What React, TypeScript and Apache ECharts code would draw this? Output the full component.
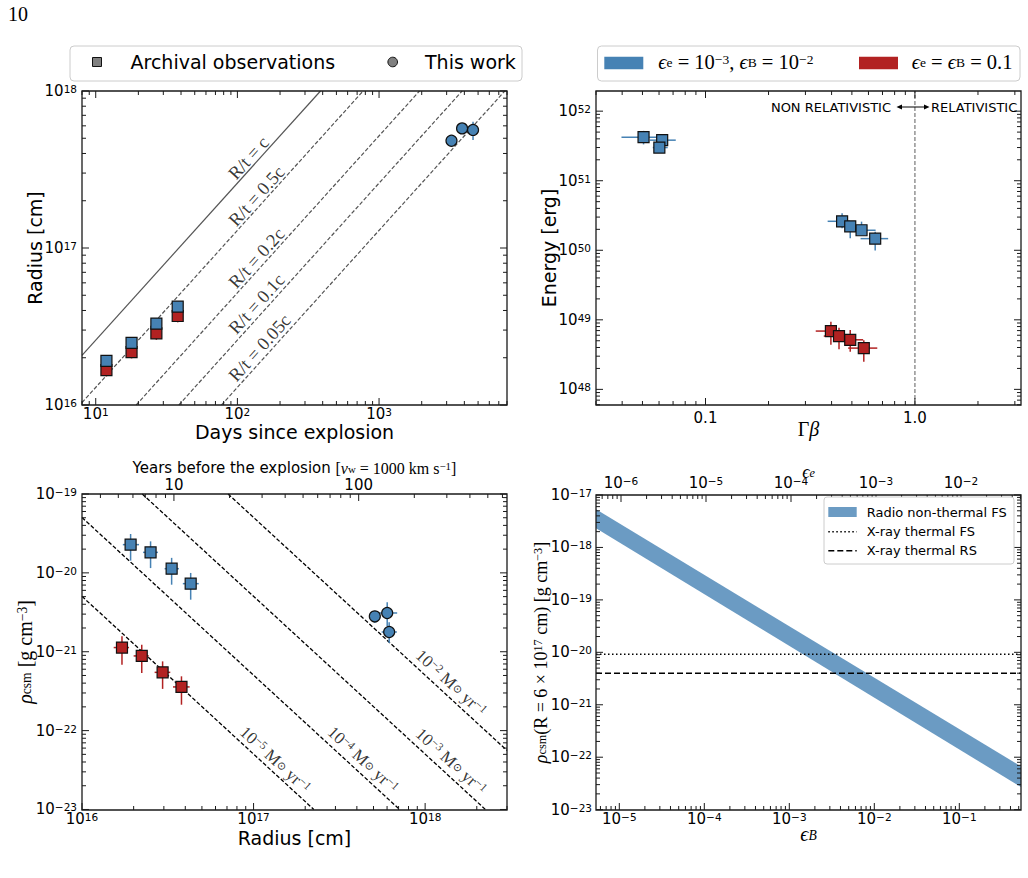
import React, { useEffect, useRef } from 'react';
import * as echarts from 'echarts';

const SANS = "'DejaVu Sans', sans-serif";
const SERIF = "'Liberation Serif', 'DejaVu Serif', serif";
const BLUE = '#4682b4';
const RED = '#b22222';
const BAND = '#6b9bc3';
const FRAME = '#1a1a1a';
const MINUS = '\u2212';

// ---------- Panel A: radius vs days since explosion
const archivalDays = [11.9, 17.9, 26.8, 37.9];
const radiusBlue = [1.91e16, 2.49e16, 3.3e16, 4.23e16];
const radiusBlueLo = [1.8e16, 2.36e16, 3.13e16, 4.02e16];
const radiusBlueHi = [2.02e16, 2.62e16, 3.47e16, 4.44e16];
const radiusRed = [1.67e16, 2.17e16, 2.86e16, 3.69e16];
const radiusRedLo = [1.52e16, 1.98e16, 2.6e16, 3.36e16];
const radiusRedHi = [1.82e16, 2.36e16, 3.12e16, 4.02e16];
const newDays = [3245, 3855, 4606];
const newDaysLo = [3200, 3800, 4560];
const newDaysHi = [3290, 3910, 4650];
const radiusNew = [4.82e17, 5.78e17, 5.65e17];
const radiusNewLo = [4.72e17, 5.5e17, 4.87e17];
const radiusNewHi = [4.93e17, 6.05e17, 6.37e17];
const speedLabels = ['R/t = c', 'R/t = 0.5c', 'R/t = 0.2c', 'R/t = 0.1c', 'R/t = 0.05c'];
const speedLineStart = [[8, 2.07e16], [8, 1.036e16], [19.3, 1e16], [38.6, 1e16], [77.2, 1e16]];
const speedLineEnd = [[386, 1e18], [772, 1e18], [1930, 1e18], [3860, 1e18], [7720, 1e18]];
const speedLabelPos = [[120, 3.74e17], [136.7, 2.14e17], [136.7, 8.63e16], [136.7, 4.4e16], [143.6, 2.31e16]];

// ---------- Panel B: energy vs Gamma*beta
const gbBlue = [0.0506, 0.0621, 0.0602, 0.449, 0.491, 0.556, 0.646];
const gbBlueLo = [0.0397, 0.0542, 0.056, 0.383, 0.43, 0.526, 0.55];
const gbBlueHi = [0.0594, 0.0721, 0.066, 0.489, 0.517, 0.649, 0.745];
const energyBlue = [4.23e51, 3.83e51, 3.0e51, 2.61e50, 2.21e50, 1.94e50, 1.47e50];
const energyBlueLo = [3.33e51, 3.4e51, 2.7e51, 2.07e50, 1.49e50, 1.66e50, 9.9e49];
const energyBlueHi = [5.21e51, 4.3e51, 3.3e51, 3.41e50, 2.58e50, 2.58e50, 1.85e50];
const gbRed = [0.397, 0.434, 0.491, 0.57];
const gbRedLo = [0.336, 0.367, 0.472, 0.48];
const gbRedHi = [0.463, 0.489, 0.566, 0.661];
const energyRed = [6.89e48, 5.84e48, 5.16e48, 3.92e48];
const energyRedLo = [4.37e48, 3.76e48, 3.47e48, 2.49e48];
const energyRedHi = [9.36e48, 7.67e48, 7.11e48, 5.1e48];
const relativisticBoundary = 1.0;

// ---------- Panel C: density vs radius
const radiusCBlue = [1.92e16, 2.51e16, 3.33e16, 4.3e16];
const radiusCBlueLo = [1.73e16, 2.27e16, 3.03e16, 3.87e16];
const radiusCBlueHi = [2.15e16, 2.77e16, 3.67e16, 4.79e16];
const rhoBlue = [2.28e-20, 1.82e-20, 1.13e-20, 7.3e-21];
const rhoBlueLo = [1.43e-20, 1.15e-20, 7.08e-21, 4.57e-21];
const rhoBlueHi = [3.11e-20, 2.51e-20, 1.55e-20, 9.98e-21];
const radiusCRed = [1.71e16, 2.23e16, 2.95e16, 3.8e16];
const radiusCRedLo = [1.53e16, 2.0e16, 2.65e16, 3.39e16];
const radiusCRedHi = [1.88e16, 2.45e16, 3.27e16, 4.24e16];
const rhoRed = [1.13e-21, 8.85e-22, 5.48e-22, 3.58e-22];
const rhoRedLo = [6.86e-22, 5.38e-22, 3.38e-22, 2.13e-22];
const rhoRedHi = [1.57e-21, 1.23e-21, 7.55e-22, 4.88e-22];
const radiusCNew = [5.09e17, 6.01e17, 6.17e17];
const radiusCNewLo = [4.74e17, 5.3e17, 5.58e17];
const radiusCNewHi = [5.47e17, 6.87e17, 6.84e17];
const rhoNew = [2.81e-21, 3.1e-21, 1.78e-21];
const rhoNewLo = [2.32e-21, 2.1e-21, 1.29e-21];
const rhoNewHi = [3.25e-21, 4.23e-21, 2.36e-21];
const massLossLabels = ['-5', '-4', '-3', '-2'];
const massLossStart = [[1e16, 5.04e-21], [1e16, 5.04e-20], [2.245e16, 1e-19], [7.1e16, 1e-19]];
const massLossEnd = [[2.245e17, 1e-23], [7.1e17, 1e-23], [2.245e18, 1e-23], [3e18, 5.6e-23]];
const massLossLabelPos = [[1.337e17, 4.28e-23], [4.34e17, 4.28e-23], [1.416e18, 4.08e-23], [1.416e18, 4.03e-22]];

// ---------- Panel D: density vs epsilon_B
const epsBEdges = [5.32e-6, 0.532];
const bandUpper = [5.34e-18, 6.68e-23];
const bandLower = [2.32e-18, 2.7e-23];
const xrayFS = 9.2e-21;
const xrayRS = 4.0e-21;

// ---------- axis ranges
const rangeA = { x: [8, 8000], y: [1e16, 1e18] };
const rangeB = { x: [0.03, 3.21], y: [5.96e47, 1.95e52] };
const rangeC = { x: [1e16, 3e18], y: [0.985e-23, 1e-19], top: [3.18, 635] };
const rangeD = { x: [5.32e-6, 0.532], y: [0.985e-23, 1e-17], top: [5.08e-7, 0.0508] };

const isPow10 = (v: number) => {
  if (!(v > 0)) return false;
  const e = Math.log10(v);
  return Math.abs(e - Math.round(e)) < 1e-6;
};
const powFmt = (v: number) => {
  if (!isPow10(v)) return '';
  const r = Math.round(Math.log10(v));
  return `{b|10}{s|${r < 0 ? MINUS + -r : r}}`;
};
const supRich = {
  b: { fontSize: 15, lineHeight: 15, padding: [4, 0, 0, 0], verticalAlign: 'bottom', fontFamily: SANS, color: '#000' },
  s: { fontSize: 10.5, lineHeight: 11, verticalAlign: 'top', fontFamily: SANS, color: '#000' },
};
const mathRich = (size: number, pad = 4) => ({
  m: { fontSize: size, lineHeight: size, padding: [pad, 0, pad, 0], fontFamily: SERIF, color: '#000' },
  i: { fontSize: size, lineHeight: size, padding: [pad, 0, pad, 0], fontFamily: SERIF, fontStyle: 'italic', color: '#000' },
  a: { fontSize: 15, lineHeight: 15, padding: [pad, 0, pad, 0], fontFamily: SANS, color: '#000' },
  sup: { fontSize: size * 0.68, lineHeight: size * 0.68, verticalAlign: 'top', fontFamily: SERIF, color: '#000' },
  sub: { fontSize: size * 0.68, lineHeight: size * 0.68, padding: [0, 0, 2, 0], verticalAlign: 'bottom', fontFamily: SERIF, color: '#000' },
  subi: { fontSize: size * 0.68, lineHeight: size * 0.68, padding: [0, 0, 2, 0], verticalAlign: 'bottom', fontFamily: SERIF, fontStyle: 'italic', color: '#000' },
});

const logAxis = (o: any) => ({
  type: 'log',
  logBase: 10,
  axisLine: { show: false },
  axisTick: { show: false },
  splitLine: { show: false },
  minorTick: { show: false },
  minorSplitLine: { show: false },
  nameLocation: 'middle',
  nameMoveOverlap: false,
  ...o,
});

const logTickValues = (min: number, max: number) => {
  const out: { v: number; major: boolean }[] = [];
  const e0 = Math.floor(Math.log10(min));
  const e1 = Math.ceil(Math.log10(max));
  for (let e = e0; e <= e1; e++) {
    for (let m = 1; m <= 9; m++) {
      const v = m * Math.pow(10, e);
      if (v >= min * (1 - 1e-9) && v <= max * (1 + 1e-9)) out.push({ v, major: m === 1 });
    }
  }
  return out;
};

const tickRender = (params: any, api: any) => {
  const cs = params.coordSys;
  const kind = api.value(2);
  const len = api.value(3);
  const sides = api.value(4);
  const st = { stroke: FRAME, lineWidth: 1, fill: null };
  if (kind === 2) {
    return { type: 'rect', shape: { x: cs.x, y: cs.y, width: cs.width, height: cs.height }, style: { stroke: FRAME, lineWidth: 1.3, fill: null } };
  }
  const p = api.coord([api.value(0), api.value(1)]);
  const ch: any[] = [];
  if (kind === 0) {
    const x = p[0];
    if (sides & 1) ch.push({ type: 'line', shape: { x1: x, y1: cs.y + cs.height, x2: x, y2: cs.y + cs.height - len }, style: st });
    if (sides & 2) ch.push({ type: 'line', shape: { x1: x, y1: cs.y, x2: x, y2: cs.y + len }, style: st });
  } else {
    const y = p[1];
    if (sides & 1) ch.push({ type: 'line', shape: { x1: cs.x, y1: y, x2: cs.x + len, y2: y }, style: st });
    if (sides & 2) ch.push({ type: 'line', shape: { x1: cs.x + cs.width, y1: y, x2: cs.x + cs.width - len, y2: y }, style: st });
  }
  return { type: 'group', children: ch };
};

const tickSeries = (xi: number, yi: number, xr: number[], yr: number[], xSides: number, ySides: number, frame: boolean) => {
  const data: number[][] = [];
  if (xSides) logTickValues(xr[0], xr[1]).forEach((t) => data.push([t.v, yr[1], 0, t.major ? 7 : 4, xSides]));
  if (ySides) logTickValues(yr[0], yr[1]).forEach((t) => data.push([xr[1], t.v, 1, t.major ? 7 : 4, ySides]));
  if (frame) data.push([xr[1], yr[1], 2, 0, 0]);
  return {
    type: 'custom', xAxisIndex: xi, yAxisIndex: yi, silent: true, z: 20, clip: false,
    dimensions: ['x', 'y', 'k', 'l', 's'], encode: { x: 0, y: 1 }, data, renderItem: tickRender,
  };
};

const errSeries = (name: string, xi: number, yi: number, color: string, x: number[], y: number[], xlo: number[], xhi: number[], ylo: number[], yhi: number[]) => ({
  type: 'custom', name, xAxisIndex: xi, yAxisIndex: yi, silent: true, z: 3,
  dimensions: ['x', 'y', 'xlo', 'xhi', 'ylo', 'yhi'], encode: { x: 0, y: 1 },
  data: x.map((v, i) => [v, y[i], xlo[i], xhi[i], ylo[i], yhi[i]]),
  renderItem: (params: any, api: any) => {
    const xv = api.value(0);
    const yv = api.value(1);
    const l = api.coord([api.value(2), yv]);
    const r = api.coord([api.value(3), yv]);
    const b = api.coord([xv, api.value(4)]);
    const t = api.coord([xv, api.value(5)]);
    const st = { stroke: color, lineWidth: 1.5, fill: null };
    return {
      type: 'group',
      children: [
        { type: 'line', shape: { x1: l[0], y1: l[1], x2: r[0], y2: r[1] }, style: st },
        { type: 'line', shape: { x1: b[0], y1: b[1], x2: t[0], y2: t[1] }, style: st },
      ],
    };
  },
});

const markers = (name: string, xi: number, yi: number, color: string, symbol: string, size: number, x: number[], y: number[]) => ({
  type: 'scatter', name, xAxisIndex: xi, yAxisIndex: yi, symbol, symbolSize: size, z: 5, silent: true,
  itemStyle: { color, borderColor: '#111', borderWidth: 1.2, opacity: 1 },
  data: x.map((v, i) => [v, y[i]]),
});

const refLine = (name: string, xi: number, yi: number, a: number[], b: number[], color: string, type: any, width: number) => ({
  type: 'line', name, xAxisIndex: xi, yAxisIndex: yi, symbol: 'none', silent: true, z: 2,
  lineStyle: { color, width, type },
  data: [a, b],
});

function massLossPosData() {
  return massLossLabelPos.map((p, i) => ({
    value: p,
    label: { formatter: `{m|10}{sup|${massLossLabels[i].replace('-', MINUS)}}{m| M}{sub|⊙}{m| yr}{sup|${MINUS}1}` },
  }));
}

const buildOption = () => {
  const series: any[] = [];
  // Panel A
  speedLabels.forEach((lab, i) =>
    series.push(refLine(lab, 0, 0, speedLineStart[i], speedLineEnd[i], '#555', i === 0 ? 'solid' : [4, 2], 1.2)));
  series.push({
    type: 'scatter', name: 'speed labels', xAxisIndex: 0, yAxisIndex: 0, symbolSize: 1, silent: true, z: 4,
    itemStyle: { color: 'rgba(0,0,0,0)' },
    data: speedLabelPos.map((p, i) => ({ value: p, label: { formatter: speedLabels[i] } })),
    label: { show: true, position: 'inside', rotate: 48, fontFamily: SERIF, fontSize: 18.5, color: '#000' },
  });
  series.push(errSeries('err red A', 0, 0, RED, archivalDays, radiusRed, archivalDays, archivalDays, radiusRedLo, radiusRedHi));
  series.push(markers('Archival (eps=0.1)', 0, 0, RED, 'rect', 11, archivalDays, radiusRed));
  series.push(errSeries('err blue A', 0, 0, BLUE, archivalDays, radiusBlue, archivalDays, archivalDays, radiusBlueLo, radiusBlueHi));
  series.push(markers('Archival observations', 0, 0, BLUE, 'rect', 11, archivalDays, radiusBlue));
  series.push(errSeries('err new A', 0, 0, BLUE, newDays, radiusNew, newDaysLo, newDaysHi, radiusNewLo, radiusNewHi));
  series.push(markers('This work', 0, 0, BLUE, 'circle', 11, newDays, radiusNew));
  series.push(tickSeries(0, 0, rangeA.x, rangeA.y, 3, 3, true));

  // Panel B
  series.push(refLine('relativistic boundary', 1, 1, [relativisticBoundary, rangeB.y[0]], [relativisticBoundary, rangeB.y[1]], '#777', [4, 2], 1.2));
  series.push(errSeries('err blue B', 1, 1, BLUE, gbBlue, energyBlue, gbBlueLo, gbBlueHi, energyBlueLo, energyBlueHi));
  series.push(markers('eps_e=1e-3, eps_B=1e-2', 1, 1, BLUE, 'rect', 11, gbBlue, energyBlue));
  series.push(errSeries('err red B', 1, 1, RED, gbRed, energyRed, gbRedLo, gbRedHi, energyRedLo, energyRedHi));
  series.push(markers('eps_e=eps_B=0.1', 1, 1, RED, 'rect', 11, gbRed, energyRed));
  series.push(tickSeries(1, 1, rangeB.x, rangeB.y, 3, 3, true));

  // Panel C
  massLossLabels.forEach((lab, i) =>
    series.push(refLine('Mdot 1e' + lab, 2, 2, massLossStart[i], massLossEnd[i], '#000', [4, 2], 1.3)));
  series.push({
    type: 'scatter', name: 'mass-loss labels', xAxisIndex: 2, yAxisIndex: 2, symbolSize: 1, silent: true, z: 4,
    itemStyle: { color: 'rgba(0,0,0,0)' },
    data: massLossPosData(),
    label: { show: true, position: 'inside', rotate: -42.6, rich: mathRich(17) },
  });
  series.push(errSeries('err blue C', 2, 2, BLUE, radiusCBlue, rhoBlue, radiusCBlueLo, radiusCBlueHi, rhoBlueLo, rhoBlueHi));
  series.push(markers('blue C', 2, 2, BLUE, 'rect', 11, radiusCBlue, rhoBlue));
  series.push(errSeries('err red C', 2, 2, RED, radiusCRed, rhoRed, radiusCRedLo, radiusCRedHi, rhoRedLo, rhoRedHi));
  series.push(markers('red C', 2, 2, RED, 'rect', 11, radiusCRed, rhoRed));
  series.push(errSeries('err new C', 2, 2, BLUE, radiusCNew, rhoNew, radiusCNewLo, radiusCNewHi, rhoNewLo, rhoNewHi));
  series.push(markers('new C', 2, 2, BLUE, 'circle', 11, radiusCNew, rhoNew));
  series.push(tickSeries(2, 2, rangeC.x, rangeC.y, 1, 3, true));
  series.push(tickSeries(3, 2, rangeC.top, rangeC.y, 2, 0, false));

  // Panel D
  series.push({
    type: 'custom', name: 'Radio non-thermal FS', xAxisIndex: 4, yAxisIndex: 3, silent: true, z: 2, clip: true,
    data: [[epsBEdges[0], bandUpper[0], epsBEdges[1], bandUpper[1], bandLower[0], bandLower[1]]],
    dimensions: ['x0', 'u0', 'x1', 'u1', 'l0', 'l1'], encode: { x: 0, y: 1 },
    renderItem: (params: any, api: any) => {
      const x0 = api.value(0), x1 = api.value(2);
      const pts = [
        api.coord([x0, api.value(1)]), api.coord([x1, api.value(3)]),
        api.coord([x1, api.value(5)]), api.coord([x0, api.value(4)]),
      ];
      return { type: 'polygon', shape: { points: pts }, style: { fill: BAND, stroke: null } };
    },
  });
  series.push(refLine('X-ray thermal FS', 4, 3, [rangeD.x[0], xrayFS], [rangeD.x[1], xrayFS], '#000', [1.5, 2.5], 1.6));
  series.push(refLine('X-ray thermal RS', 4, 3, [rangeD.x[0], xrayRS], [rangeD.x[1], xrayRS], '#000', [6, 3], 1.6));
  series.push(tickSeries(4, 3, rangeD.x, rangeD.y, 1, 3, true));
  series.push(tickSeries(5, 3, rangeD.top, rangeD.y, 2, 0, false));

  const gridBase = { show: false, containLabel: false, outerBoundsMode: 'none' };
  const nameSans = { fontFamily: SANS, fontSize: 19, color: '#000' };
  const tickLabel = (formatter: any, margin: number, extra: any = {}) => ({
    formatter, margin, rich: supRich, color: '#000', fontFamily: SANS, fontSize: 15,
    showMinLabel: true, showMaxLabel: true, hideOverlap: false, ...extra,
  });

  return {
    animation: false,
    backgroundColor: '#ffffff',
    grid: [
      { ...gridBase, left: 82, top: 91, width: 425, height: 314 },
      { ...gridBase, left: 596, top: 91, width: 425, height: 314 },
      { ...gridBase, left: 82, top: 494, width: 425, height: 316 },
      { ...gridBase, left: 596, top: 495, width: 425, height: 315 },
    ],
    xAxis: [
      logAxis({ gridIndex: 0, position: 'bottom', min: rangeA.x[0], max: rangeA.x[1], name: 'Days since explosion', nameGap: 17, nameTextStyle: nameSans, axisLabel: tickLabel(powFmt, 1) }),
      logAxis({
        gridIndex: 1, position: 'bottom', min: rangeB.x[0], max: rangeB.x[1], name: '{m|Γ}{i|β}', nameGap: 14,
        nameTextStyle: { rich: mathRich(20) },
        axisLabel: tickLabel((v: number) => (Math.abs(v - 0.1) < 1e-9 ? '0.1' : Math.abs(v - 1) < 1e-9 ? '1.0' : ''), 5),
      }),
      logAxis({ gridIndex: 2, position: 'bottom', min: rangeC.x[0], max: rangeC.x[1], name: 'Radius [cm]', nameGap: 18, nameTextStyle: nameSans, axisLabel: tickLabel(powFmt, 1) }),
      logAxis({
        gridIndex: 2, position: 'top', min: rangeC.top[0], max: rangeC.top[1],
        name: '{a|Years before the explosion }{m|[}{i|v}{sub|w}{m| = 1000 km s}{sup|−1}{m|]}', nameGap: 18,
        nameTextStyle: { rich: mathRich(16, 1) },
        axisLabel: tickLabel((v: number) => (isPow10(v) ? String(Math.round(v)) : ''), 4, { lineHeight: 10 }),
      }),
      logAxis({
        gridIndex: 3, position: 'bottom', min: rangeD.x[0], max: rangeD.x[1], name: '{i|ϵ}{subi|B}', nameGap: 14,
        nameTextStyle: { rich: mathRich(20) }, axisLabel: tickLabel(powFmt, 1),
      }),
      logAxis({
        gridIndex: 3, position: 'top', min: rangeD.top[0], max: rangeD.top[1], name: '{i|ϵ}{subi|e}', nameGap: 14,
        nameTextStyle: { rich: mathRich(18) }, axisLabel: tickLabel(powFmt, 5),
      }),
    ],
    yAxis: [
      logAxis({ gridIndex: 0, min: rangeA.y[0], max: rangeA.y[1], name: 'Radius [cm]', nameGap: 38, nameTextStyle: nameSans, axisLabel: tickLabel(powFmt, 5) }),
      logAxis({ gridIndex: 1, min: rangeB.y[0], max: rangeB.y[1], name: 'Energy [erg]', nameGap: 38, nameTextStyle: nameSans, axisLabel: tickLabel(powFmt, 5) }),
      logAxis({
        gridIndex: 2, min: rangeC.y[0], max: rangeC.y[1], name: '{i|ρ}{sub|csm}{m| [g cm}{sup|−3}{m|]}', nameGap: 47,
        nameTextStyle: { rich: mathRich(20) }, axisLabel: tickLabel(powFmt, 5),
      }),
      logAxis({
        gridIndex: 3, min: rangeD.y[0], max: rangeD.y[1], name: '{i|ρ}{sub|csm}{m|(R = 6 × 10}{sup|17}{m| cm) [g cm}{sup|−3}{m|]}', nameGap: 46,
        nameTextStyle: { rich: mathRich(18) }, axisLabel: tickLabel(powFmt, 4),
      }),
    ],
    series,
    graphic: buildGraphics(),
  };
};

function buildGraphics() {
  const txt = (x: number, y: number, text: string, font: string, align = 'left', rich?: any) => ({
    type: 'text', x, y, z: 100,
    style: { text, font, fill: '#000', align, verticalAlign: 'middle', rich },
  });
  const richLegend = {
    m: { fontSize: 20.5, fontFamily: SERIF, lineHeight: 19, padding: [4, 0, 4, 0], fill: '#000' },
    e: { fontSize: 20.5, fontFamily: SERIF, fontStyle: 'italic', lineHeight: 19, padding: [4, 0, 4, 0], fill: '#000' },
    sub: { fontSize: 13.5, fontFamily: SERIF, lineHeight: 13, verticalAlign: 'bottom', padding: [0, 0, 2, 0], fill: '#000' },
    sup: { fontSize: 13.5, fontFamily: SERIF, lineHeight: 13, verticalAlign: 'top', fill: '#000' },
  };
  return [
    txt(8, 14, '10', `20px ${SERIF}`),
    // Legend panel A
    { type: 'rect', z: 99, shape: { x: 70, y: 46, width: 452, height: 35, r: 4 }, style: { fill: '#fff', stroke: '#cccccc', lineWidth: 1 } },
    { type: 'rect', z: 100, shape: { x: 92.5, y: 57.5, width: 9, height: 9 }, style: { fill: '#808080', stroke: '#111', lineWidth: 1 } },
    txt(130.5, 62, 'Archival observations', `19px ${SANS}`),
    { type: 'circle', z: 100, shape: { cx: 392.7, cy: 62, r: 4.8 }, style: { fill: '#808080', stroke: '#111', lineWidth: 1 } },
    txt(425, 62, 'This work', `19px ${SANS}`),
    // Legend panel B
    { type: 'rect', z: 99, shape: { x: 597.5, y: 46, width: 422.5, height: 35, r: 4 }, style: { fill: '#fff', stroke: '#cccccc', lineWidth: 1 } },
    { type: 'rect', z: 100, shape: { x: 604.3, y: 56.7, width: 39, height: 12.6 }, style: { fill: BLUE } },
    txt(658.3, 62, '{e|ϵ}{sub|e}{m| = 10}{sup|−3}{m|, }{e|ϵ}{sub|B}{m| = 10}{sup|−2}', `20px ${SERIF}`, 'left', richLegend),
    { type: 'rect', z: 100, shape: { x: 859, y: 56.7, width: 39, height: 12.6 }, style: { fill: RED } },
    txt(911.7, 62, '{e|ϵ}{sub|e}{m| = }{e|ϵ}{sub|B}{m| = 0.1}', `20px ${SERIF}`, 'left', richLegend),
    // Panel B annotation
    txt(891, 107, 'NON RELATIVISTIC', `13px ${SANS}`, 'right'),
    { type: 'line', z: 100, shape: { x1: 899, y1: 107, x2: 927, y2: 107 }, style: { stroke: '#000', lineWidth: 1 } },
    { type: 'polygon', z: 100, shape: { points: [[896.5, 107], [902, 104.6], [902, 109.4]] }, style: { fill: '#000' } },
    { type: 'polygon', z: 100, shape: { points: [[929.5, 107], [924, 104.6], [924, 109.4]] }, style: { fill: '#000' } },
    txt(931, 107, 'RELATIVISTIC', `13px ${SANS}`),
    // Legend panel D
    { type: 'rect', z: 99, shape: { x: 824, y: 497, width: 190, height: 67, r: 3 }, style: { fill: '#fff', stroke: '#cccccc', lineWidth: 1 } },
    { type: 'rect', z: 100, shape: { x: 828.3, y: 507, width: 28.4, height: 10 }, style: { fill: BAND } },
    txt(866.7, 512.5, 'Radio non-thermal FS', `13px ${SANS}`),
    { type: 'line', z: 100, shape: { x1: 828.3, y1: 531.7, x2: 856.7, y2: 531.7 }, style: { stroke: '#000', lineWidth: 1.6, lineDash: [1.5, 2.5] } },
    txt(866.7, 531.7, 'X-ray thermal FS', `13px ${SANS}`),
    { type: 'line', z: 100, shape: { x1: 828.3, y1: 550.7, x2: 856.7, y2: 550.7 }, style: { stroke: '#000', lineWidth: 1.6, lineDash: [6, 3] } },
    txt(866.7, 550.7, 'X-ray thermal RS', `13px ${SANS}`),
  ];
}

export default function App() {
  const ref = useRef<HTMLDivElement>(null);
  useEffect(() => {
    if (!ref.current) return;
    const chart = echarts.init(ref.current, undefined, { renderer: 'svg' });
    chart.setOption(buildOption() as any);
    return () => chart.dispose();
  }, []);
  return <div ref={ref} style={{ position: 'absolute', left: 0, top: 0, width: 1028, height: 878, background: '#fff' }} />;
}
